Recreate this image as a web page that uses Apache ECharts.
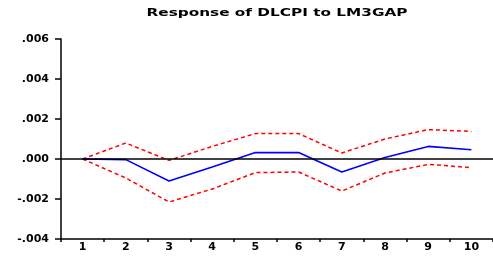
<!DOCTYPE html>
<html>
<head>
<meta charset="utf-8">
<script src="https://cdn.jsdelivr.net/npm/echarts@6/dist/echarts.min.js"></script>
<style>html,body{margin:0;padding:0;background:#fff}#c{width:493px;height:256px}</style>
</head>
<body>
<div id="c"></div>
<script>
const categories = ['1','2','3','4','5','6','7','8','9','10'];
const response = [0.0000, -0.00003, -0.0011, -0.0004, 0.00032, 0.00032, -0.00065, 0.00007, 0.00063, 0.00046];
const upperBand = [0.0000, 0.0008, -0.00007, 0.00063, 0.00127, 0.00127, 0.0003, 0.001, 0.00147, 0.00138];
const lowerBand = [0.0000, -0.00095, -0.00215, -0.0015, -0.00068, -0.00065, -0.0016, -0.0007, -0.00027, -0.00043];
const yTickLabels = {'0.006':'.006','0.004':'.004','0.002':'.002','0':'.000','-0.002':'-.002','-0.004':'-.004'};
const titleText = 'Response of DLCPI to LM3GAP';

const chart = echarts.init(document.getElementById('c'), null, {renderer:'canvas'});
const font = '"DejaVu Sans", sans-serif';
const titleFont = 'bold 11px "DejaVu Sans", sans-serif';
const mctx = document.createElement('canvas').getContext('2d');
mctx.font = titleFont;
const titleScale = 261 / mctx.measureText(titleText).width;

chart.setOption({
  animation: false,
  graphic: [{
    type: 'text', x: 277, y: 13.5, scaleX: titleScale, silent: true,
    style: {text: titleText, font: titleFont, fill: '#000', textAlign: 'center', textVerticalAlign: 'middle'}
  }],
  grid: {left: 61, top: 39, width: 434, height: 200},
  xAxis: {
    type: 'category', data: categories, boundaryGap: true,
    axisLine: {onZero: false, lineStyle: {color: '#000', width: 1.5}},
    axisTick: {show: true, length: 3, lineStyle: {color: '#000', width: 1.5}},
    axisLabel: {margin: 3, fontFamily: font, fontSize: 11, fontWeight: 'bold', color: '#000'},
    splitLine: {show: false}
  },
  yAxis: {
    type: 'value', min: -0.004, max: 0.006, interval: 0.002,
    axisLine: {show: true, lineStyle: {color: '#000', width: 1.5}},
    axisTick: {show: true, length: 6, lineStyle: {color: '#000', width: 1.5}},
    axisLabel: {margin: 12, fontFamily: font, fontSize: 11, fontWeight: 'bold', color: '#000',
      formatter: v => yTickLabels[String(Math.round(v*1000)/1000)] || ''},
    splitLine: {show: false}
  },
  series: [
    {type: 'line', data: upperBand, symbol: 'none', lineStyle: {color: '#ff0000', width: 1.5, type: [4, 3]}},
    {type: 'line', data: lowerBand, symbol: 'none', lineStyle: {color: '#ff0000', width: 1.5, type: [4, 3]}},
    {type: 'line', data: response, symbol: 'none', lineStyle: {color: '#0000ff', width: 1.6},
      markLine: {silent: true, symbol: 'none', label: {show: false},
        lineStyle: {color: '#000', width: 1.5, type: 'solid'},
        data: [{yAxis: 0}, {yAxis: 0.006}]}}
  ]
});
</script>
</body>
</html>
